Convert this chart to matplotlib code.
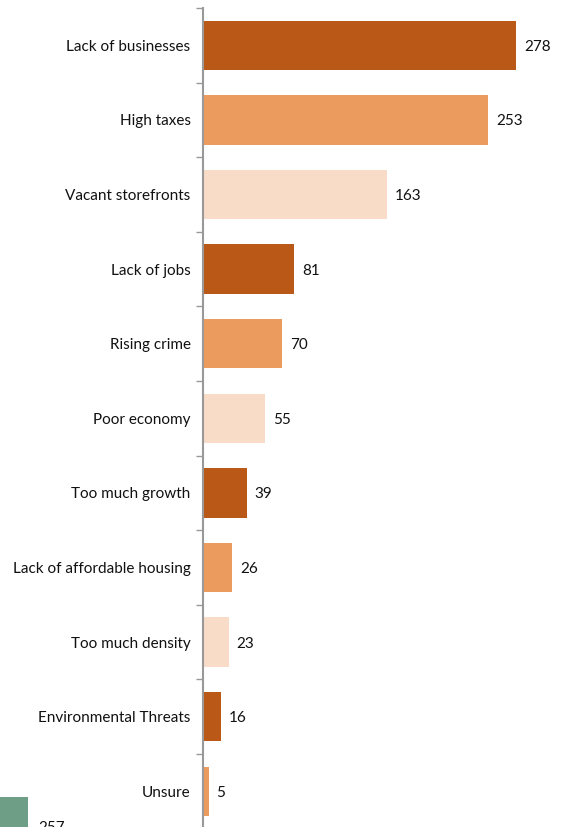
import matplotlib as mpl
import matplotlib.pyplot as plt
import numpy as np

mpl.use('Agg')
plt.rcParams['font.family'] = ['Lato', 'DejaVu Sans']

categorias = ["Lack of businesses", "High taxes", "Vacant storefronts", "Lack of jobs",
              "Rising crime", "Poor economy", "Too much growth",
              "Lack of affordable housing", "Too much density",
              "Environmental Threats", "Unsure"]
valores = [278, 253, 163, 81, 70, 55, 39, 26, 23, 16, 5]
cores = ["#BA5817", "#EC9B5F", "#F8DCC8"]

# pedaco de outro grafico cortado no canto inferior
outro_valor = 257
outro_cor = "#6E9F86"

fig = plt.figure(figsize=(5.69, 8.27), dpi=100)
ax = fig.add_axes([203 / 569, -0.0019, 1 - 203 / 569, 0.9903 + 0.0019])

y = np.arange(len(categorias))
ax.barh(y, valores, height=0.66, color=[cores[i % 3] for i in y])
for i, v in enumerate(valores):
    ax.text(v + 7, i, str(v), va='center_baseline', ha='left', fontsize=11, color='#111111')

ax.set_ylim(len(categorias) - 0.5, -0.5)
ax.set_xlim(0, 325)
ax.set_yticks(y)
ax.set_yticklabels(categorias, fontsize=11, color='#111111', va='center_baseline')
ax.tick_params(axis='y', which='major', length=0, pad=9)
ax.set_yticks(np.arange(-0.5, len(categorias)), minor=True)
ax.tick_params(axis='y', which='minor', length=5, width=1, color='#999999', direction='out')
ax.set_xticks([])
for s in ['top', 'right', 'bottom']:
    ax.spines[s].set_visible(False)
ax.spines['left'].set_color('#999999')
ax.spines['left'].set_linewidth(1.5)

# segundo grafico quase todo fora da figura
ax2 = fig.add_axes([0, -0.05, 0.3, 0.05 + 30 / 827])
ax2.barh([0], [outro_valor], height=1.0, color=outro_cor)
ax2.text(outro_valor + 92, 0.06, str(outro_valor), va='center', ha='left', fontsize=11, color='#111111')
ax2.set_xlim(0, outro_valor * 0.3 * 569 / 28)
ax2.set_ylim(-0.5, 0.5)
ax2.axis('off')

fig.savefig('out.png', dpi=100)
